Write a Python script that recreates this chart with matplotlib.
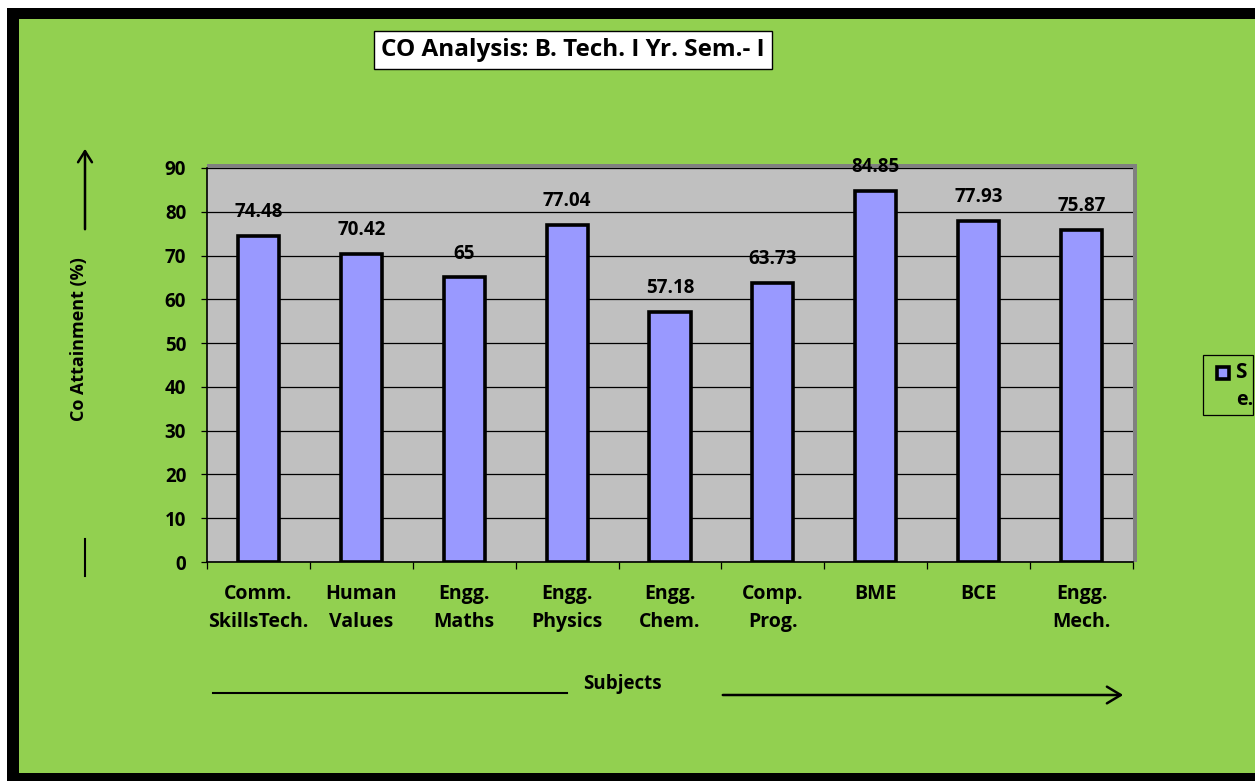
import matplotlib
matplotlib.use('Agg')
import matplotlib.pyplot as plt
from matplotlib.patches import Rectangle, FancyArrowPatch
from matplotlib.lines import Line2D

subjects = ['Comm.\nSkillsTech.', 'Human\nValues', 'Engg.\nMaths', 'Engg.\nPhysics',
            'Engg.\nChem.', 'Comp.\nProg.', 'BME', 'BCE', 'Engg.\nMech.']
attainment = [74.48, 70.42, 65, 77.04, 57.18, 63.73, 84.85, 77.93, 75.87]
value_labels = ['74.48', '70.42', '65', '77.04', '57.18', '63.73', '84.85', '77.93', '75.87']
y_ticks = [0, 10, 20, 30, 40, 50, 60, 70, 80, 90]

plt.rcParams['font.family'] = ['Open Sans', 'DejaVu Sans']
plt.rcParams['font.weight'] = 'bold'
FS = 13.5

W, H = 1255, 781
fig = plt.figure(figsize=(W / 100, H / 100), dpi=100, facecolor='white')

def fx(px):
    return px / W

def fy(py):
    return 1 - py / H

# frame: black border with green fill
fig.patches.append(Rectangle((fx(7), 0), 1.2, fy(8), transform=fig.transFigure,
                             facecolor='black', edgecolor='none', zorder=-2))
fig.patches.append(Rectangle((fx(19), fy(773)), 1.2, fy(19) - fy(773), transform=fig.transFigure,
                             facecolor='#92D050', edgecolor='none', zorder=-2))

# plot area
left, right, top, bottom = 207, 1133, 168, 562
ax = fig.add_axes([fx(left), fy(bottom), fx(right) - fx(left), fy(top) - fy(bottom)])
ax.set_zorder(1)
ax.set_facecolor('#C0C0C0')
# shadow on top and right
fig.patches.append(Rectangle((fx(left), fy(bottom)), fx(right + 4) - fx(left), fy(top - 4) - fy(bottom),
                             transform=fig.transFigure, facecolor='#808080', edgecolor='none', zorder=-1))

x = list(range(len(subjects)))
bars = ax.bar(x, attainment, width=0.4, color='#9999FF', edgecolor='black', linewidth=2.6, zorder=3)

for xi, v, lab in zip(x, attainment, value_labels):
    ax.annotate(lab, (xi, v), xytext=(0, 10), textcoords='offset points',
                ha='center', va='bottom', fontsize=FS, fontweight='bold', zorder=4,
                annotation_clip=False)

ax.set_xlim(-0.5, len(subjects) - 0.5)
ax.set_ylim(0, 90)
ax.set_yticks(y_ticks)
ax.set_yticklabels([str(t) for t in y_ticks], fontsize=FS, fontweight='bold')
ax.yaxis.grid(True, color='black', linewidth=0.9, zorder=1)
ax.set_axisbelow(True)

ax.set_xticks(x)
ax.set_xticklabels(subjects, fontsize=14, fontweight='bold', linespacing=1.5)
ax.tick_params(axis='x', length=0, pad=16)
ax.set_xticks([i - 0.5 for i in range(len(subjects) + 1)], minor=True)
ax.tick_params(axis='x', which='minor', length=5, width=0.9, direction='out')
ax.tick_params(axis='y', length=4, width=0.9, direction='out', pad=11)

for s in ['top', 'right']:
    ax.spines[s].set_visible(False)
for s in ['left', 'bottom']:
    ax.spines[s].set_linewidth(1.2)

# title box
fig.text(fx(573), fy(50), 'CO Analysis: B. Tech. I Yr. Sem.- I', ha='center', va='center',
         fontsize=17.5, fontweight='bold',
         bbox=dict(boxstyle='square,pad=0.3', facecolor='white', edgecolor='black', linewidth=1))

# y label and arrows
fig.text(fx(79), fy(339), 'Co Attainment (%)', rotation=90, ha='center', va='center',
         fontsize=13, fontweight='bold')
fig.patches.append(FancyArrowPatch((fx(85), fy(232)), (fx(85), fy(146)), transform=fig.transFigure,
                                   arrowstyle='->,head_length=8,head_width=5', color='black',
                                   linewidth=1.8, mutation_scale=1))
fig.lines.append(Line2D([fx(85), fx(85)], [fy(539), fy(576)], transform=fig.transFigure,
                        color='black', linewidth=1.5))

# x label and arrows
fig.text(fx(622), fy(684), 'Subjects', ha='center', va='center', fontsize=FS, fontweight='bold')
fig.lines.append(Line2D([fx(213), fx(567)], [fy(693), fy(693)], transform=fig.transFigure,
                        color='black', linewidth=1.5))
fig.patches.append(FancyArrowPatch((fx(720), fy(695)), (fx(1126), fy(695)), transform=fig.transFigure,
                                   arrowstyle='->,head_length=10,head_width=6', color='black',
                                   linewidth=1.8, mutation_scale=1))

# legend (cut off at right edge)
fig.patches.append(Rectangle((fx(1203), fy(415)), fx(1253) - fx(1203), fy(355) - fy(415),
                             transform=fig.transFigure, facecolor='none', edgecolor='black', linewidth=0.9))
fig.patches.append(Rectangle((fx(1217), fy(379)), fx(1229) - fx(1217), fy(367) - fy(379),
                             transform=fig.transFigure, facecolor='#9999FF', edgecolor='black', linewidth=2.6))
fig.text(fx(1235), fy(372), 'S', ha='left', va='center', fontsize=15, fontweight='bold')
fig.text(fx(1236), fy(400), 'e.', ha='left', va='center', fontsize=14, fontweight='bold')

fig.savefig('out.png', dpi=100, facecolor=fig.get_facecolor())
